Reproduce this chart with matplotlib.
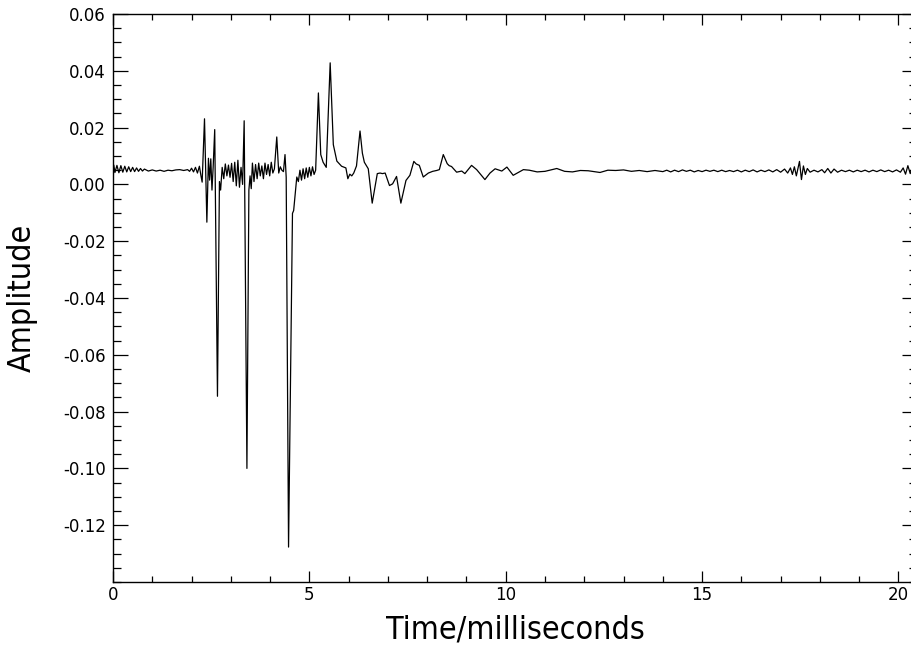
import matplotlib
matplotlib.use("Agg")
import matplotlib.pyplot as plt
from matplotlib.ticker import MultipleLocator, FixedLocator

plt.rcParams['axes.unicode_minus'] = False

# ---- data ----
time_ms = [
    0.00, 0.02, 0.05, 0.10, 0.15, 0.20, 0.25, 0.30, 0.35, 0.40, 0.45, 0.50, 0.55, 0.60, 0.65, 0.70,
    0.75, 0.80, 0.90, 1.00, 1.10, 1.20, 1.30, 1.40, 1.50, 1.60, 1.70, 1.80, 1.90, 1.95, 2.00, 2.05,
    2.10, 2.15, 2.20, 2.24, 2.27, 2.33, 2.39, 2.43, 2.46, 2.49, 2.52, 2.55, 2.59, 2.66, 2.71, 2.74,
    2.78, 2.82, 2.86, 2.90, 2.94, 2.98, 3.02, 3.06, 3.10, 3.14, 3.18, 3.22, 3.26, 3.30, 3.34, 3.41,
    3.46, 3.49, 3.52, 3.55, 3.59, 3.63, 3.67, 3.71, 3.75, 3.79, 3.83, 3.87, 3.91, 3.95, 3.99, 4.03,
    4.07, 4.11, 4.17, 4.22, 4.26, 4.30, 4.34, 4.38, 4.41, 4.47, 4.57, 4.60, 4.68, 4.72, 4.76, 4.80,
    4.84, 4.88, 4.92, 4.96, 5.00, 5.04, 5.08, 5.12, 5.16, 5.23, 5.29, 5.35, 5.43, 5.53, 5.61, 5.70,
    5.82, 5.93, 5.98, 6.03, 6.08, 6.13, 6.20, 6.29, 6.35, 6.40, 6.50, 6.60, 6.73, 6.80, 6.86, 6.93,
    7.04, 7.12, 7.22, 7.33, 7.46, 7.56, 7.66, 7.72, 7.80, 7.90, 8.03, 8.14, 8.24, 8.31, 8.41, 8.51,
    8.56, 8.62, 8.75, 8.88, 8.96, 9.13, 9.26, 9.47, 9.60, 9.73, 9.90, 10.03, 10.19, 10.45, 10.60, 10.80,
    11.00, 11.30, 11.50, 11.70, 11.90, 12.10, 12.40, 12.60, 12.80, 13.00, 13.20, 13.40, 13.60, 13.80,
    14.0, 14.1, 14.2, 14.3, 14.4, 14.5, 14.6, 14.7, 14.8, 14.9, 15.0, 15.1, 15.2, 15.3, 15.4, 15.5,
    15.6, 15.7, 15.8, 15.9, 16.0, 16.1, 16.2, 16.3, 16.4, 16.5, 16.6, 16.7, 16.8, 16.9, 17.0, 17.1,
    17.18, 17.25, 17.30, 17.35, 17.40, 17.48, 17.53, 17.58, 17.63, 17.68, 17.75, 17.85, 17.95, 18.05,
    18.12, 18.20, 18.28, 18.36, 18.45, 18.55, 18.65, 18.75, 18.85, 18.95, 19.05, 19.15, 19.25, 19.35,
    19.45, 19.55, 19.65, 19.75, 19.85, 19.95, 20.05, 20.12, 20.18, 20.24, 20.30, 20.35,
]
amplitude = [
    0.0000, 0.0068, 0.0042, 0.0067, 0.0041, 0.0066, 0.0043, 0.0064, 0.0044, 0.0062, 0.0045, 0.0060, 0.0045, 0.0058, 0.0046, 0.0056,
    0.0047, 0.0054, 0.0047, 0.0051, 0.0047, 0.0050, 0.0046, 0.0050, 0.0048, 0.0051, 0.0052, 0.0049, 0.0052, 0.0046, 0.0057, 0.0044,
    0.0060, 0.0040, 0.0064, 0.0030, 0.0008, 0.0231, -0.0133, 0.0092, 0.0015, 0.0090, -0.0020, 0.0060, 0.0193, -0.0746, 0.0010, -0.0020,
    0.0060, 0.0020, 0.0072, 0.0030, 0.0068, 0.0025, 0.0074, 0.0010, 0.0078, -0.0005, 0.0085, -0.0010, 0.0060, 0.0000, 0.0224, -0.1000,
    -0.0020, 0.0030, -0.0015, 0.0075, 0.0010, 0.0070, 0.0020, 0.0075, 0.0030, 0.0065, 0.0020, 0.0075, 0.0035, 0.0070, 0.0030, 0.0078,
    0.0040, 0.0055, 0.0167, 0.0040, 0.0062, 0.0050, 0.0045, 0.0105, 0.0025, -0.1277, -0.0102, -0.0092, 0.0026, 0.0010, 0.0050, 0.0015,
    0.0055, 0.0020, 0.0058, 0.0025, 0.0060, 0.0030, 0.0062, 0.0035, 0.0050, 0.0322, 0.0105, 0.0078, 0.0060, 0.0428, 0.0140, 0.0082,
    0.0064, 0.0058, 0.0020, 0.0036, 0.0030, 0.0040, 0.0065, 0.0188, 0.0110, 0.0078, 0.0055, -0.0066, 0.0038, 0.0040, 0.0038, 0.0040,
    -0.0004, 0.0002, 0.0028, -0.0066, 0.0014, 0.0032, 0.0081, 0.0072, 0.0067, 0.0026, 0.0040, 0.0046, 0.0049, 0.0052, 0.0105, 0.0073,
    0.0066, 0.0063, 0.0043, 0.0047, 0.0038, 0.0067, 0.0052, 0.0017, 0.0040, 0.0055, 0.0047, 0.0061, 0.0032, 0.0052, 0.0050, 0.0044,
    0.0046, 0.0056, 0.0046, 0.0044, 0.0049, 0.0048, 0.0042, 0.0050, 0.0049, 0.0051, 0.0046, 0.0049, 0.0045, 0.0049,
    0.0045, 0.0050, 0.0044, 0.0050, 0.0045, 0.0051, 0.0046, 0.0050, 0.0044, 0.0049, 0.0045, 0.0050, 0.0046, 0.0050, 0.0045, 0.0050,
    0.0045, 0.0049, 0.0045, 0.0050, 0.0044, 0.0050, 0.0045, 0.0051, 0.0044, 0.0050, 0.0045, 0.0051, 0.0044, 0.0052, 0.0043, 0.0054,
    0.0040, 0.0058, 0.0035, 0.0062, 0.0030, 0.0081, 0.0017, 0.0065, 0.0035, 0.0056, 0.0043, 0.0050, 0.0044, 0.0052,
    0.0041, 0.0056, 0.0040, 0.0054, 0.0043, 0.0050, 0.0045, 0.0050, 0.0044, 0.0050, 0.0045, 0.0050, 0.0044, 0.0050,
    0.0045, 0.0051, 0.0045, 0.0050, 0.0044, 0.0051, 0.0043, 0.0058, 0.0036, 0.0066, 0.0038, 0.0060,
]
x_major_ticks = [0, 5, 10, 15, 20]
x_tick_labels = ["0", "5", "10", "15", "20"]
y_major_ticks = [-0.12, -0.10, -0.08, -0.06, -0.04, -0.02, 0.00, 0.02, 0.04, 0.06]
y_tick_labels = ["-0.12", "-0.10", "-0.08", "-0.06", "-0.04", "-0.02", "0.00", "0.02", "0.04", "0.06"]
x_label = "Time/milliseconds"
y_label = "Amplitude"

# ---- figure ----
fig = plt.figure(figsize=(9.12, 6.49), dpi=100)
W, H = 912, 649
left_px, right_px, top_px, bottom_px = 113, 917.3, 14, 582
ax = fig.add_axes([left_px / W, 1 - bottom_px / H, (right_px - left_px) / W, (bottom_px - top_px) / H])

ax.plot(time_ms, amplitude, color="black", lw=0.9)

ax.set_xlim(0, 20.48)
ax.set_ylim(-0.14, 0.06)

ax.xaxis.set_major_locator(FixedLocator(x_major_ticks))
ax.set_xticklabels(x_tick_labels)
ax.xaxis.set_minor_locator(MultipleLocator(1))
ax.yaxis.set_major_locator(FixedLocator(y_major_ticks))
ax.set_yticklabels(y_tick_labels)
ax.yaxis.set_minor_locator(MultipleLocator(0.005))

ax.tick_params(axis="both", which="both", direction="in", top=True, right=True, color="black", width=0.9)
ax.tick_params(axis="x", which="major", length=8, pad=3, labelsize=12)
ax.tick_params(axis="x", which="minor", length=4.3)
ax.tick_params(axis="y", which="major", length=11, pad=5, labelsize=12)
ax.tick_params(axis="y", which="minor", length=5.8)
for s in ax.spines.values():
    s.set_linewidth(1.0)

ax.set_xlabel(x_label, fontsize=23, fontfamily="DejaVu Sans", fontstretch="condensed", fontweight="light")
ax.set_ylabel(y_label, fontsize=23, fontfamily="DejaVu Sans", fontstretch="condensed", fontweight="light")
ax.xaxis.set_label_coords(0.5, -0.057)
ax.yaxis.set_label_coords(-0.094, 0.5)

fig.savefig("out.png", dpi=100)
